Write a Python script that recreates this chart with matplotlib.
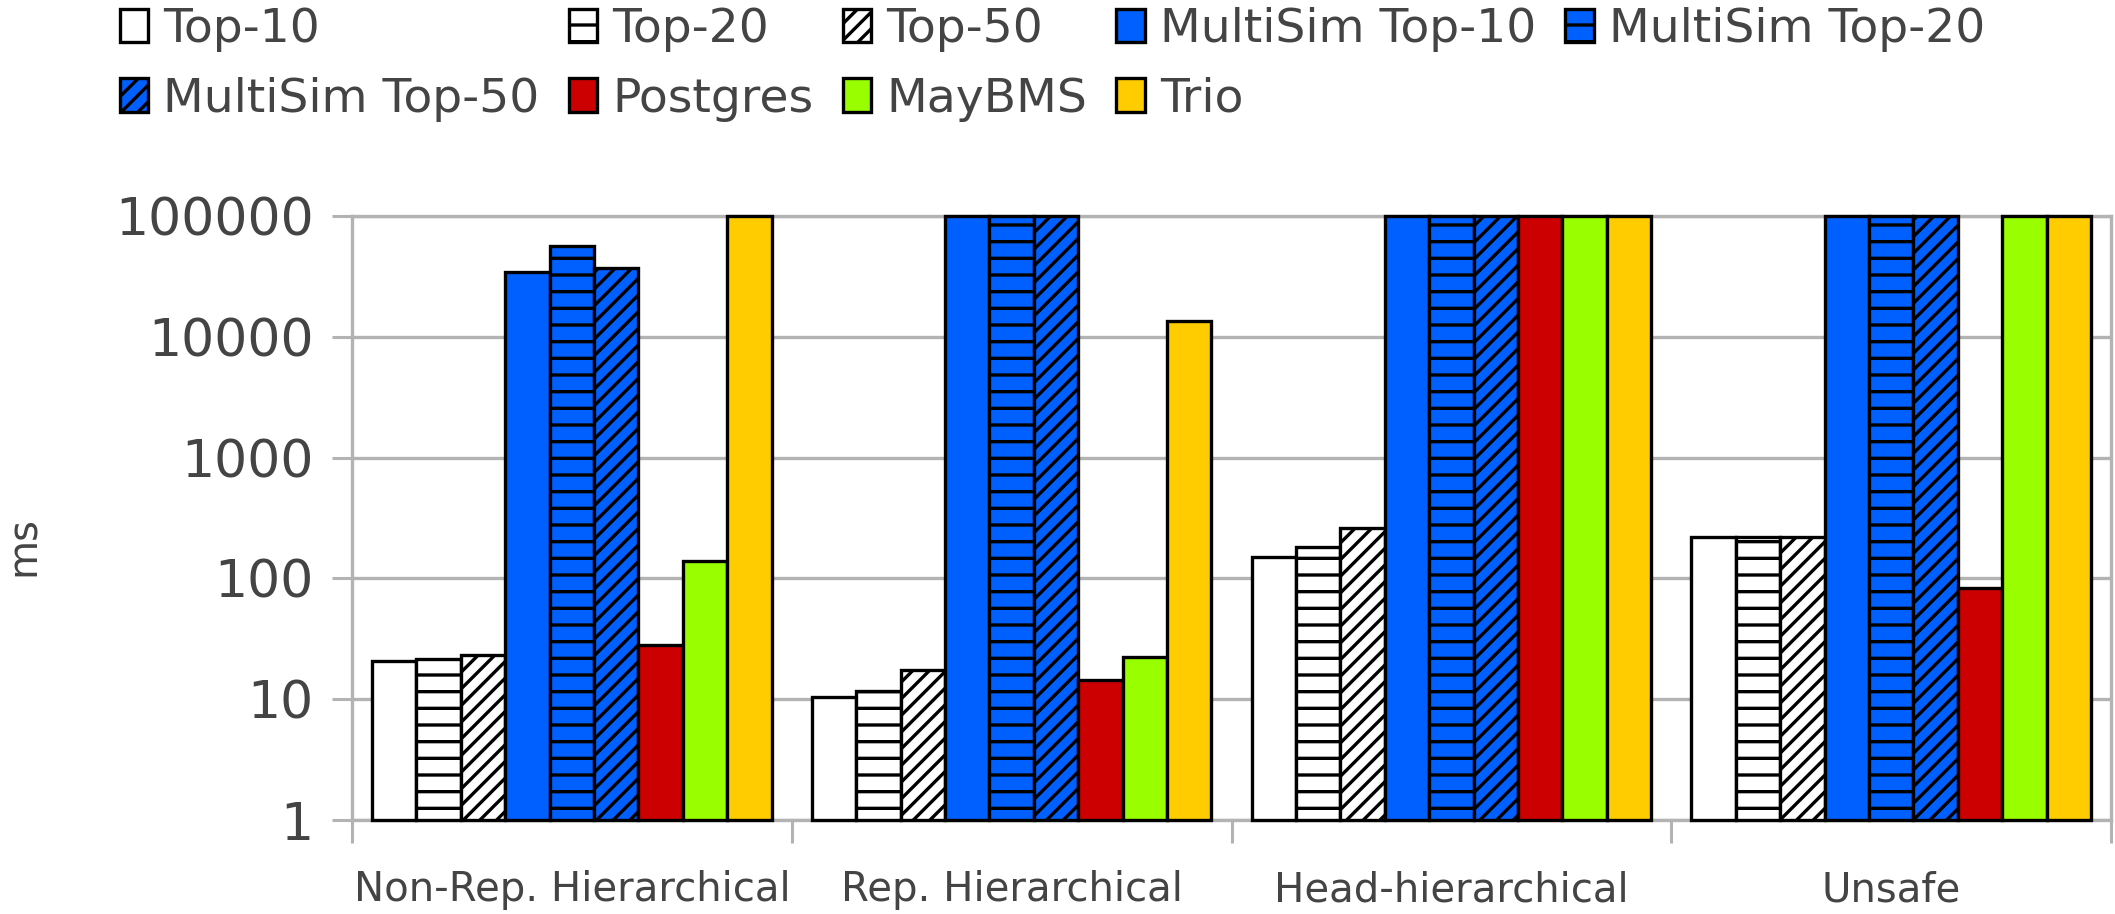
import numpy as np
import matplotlib
matplotlib.use('Agg')
import matplotlib.pyplot as plt
from matplotlib.patches import Patch
from matplotlib.ticker import FixedLocator, FuncFormatter, NullLocator

### Query runtimes (ms), one value per query class

categories = ['Non-Rep. Hierarchical', 'Rep. Hierarchical', 'Head-hierarchical', 'Unsafe']
series_names = ['Top-10', 'Top-20', 'Top-50', 'MultiSim Top-10', 'MultiSim Top-20',
                'MultiSim Top-50', 'Postgres', 'MayBMS', 'Trio']

top10 = [20.6, 10.4, 151, 221]
top20 = [21.4, 11.8, 181, 221]
top50 = [23.4, 17.3, 262, 221]
multisim10 = [34400, 100000, 100000, 100000]
multisim20 = [56500, 100000, 100000, 100000]
multisim50 = [37300, 100000, 100000, 100000]
postgres = [28.3, 14.5, 100000, 83.8]
maybms = [139, 22.4, 100000, 100000]
trio = [100000, 13600, 100000, 100000]

yticks = [1, 10, 100, 1000, 10000, 100000]

all_series = [top10, top20, top50, multisim10, multisim20, multisim50, postgres, maybms, trio]

BLUE = '#0060ff'
colors = ['white', 'white', 'white', BLUE, BLUE, BLUE, '#cc0000', '#99ff00', '#ffcc00']
hatches = [None, '-', '//', None, '-', '//', None, None, None]

GRID = '#b3b3b3'
TEXT = '#444444'
BASE = 1.0
BAR_W = 0.101
EDGE_LW = 2.4

plt.rcParams['font.family'] = 'DejaVu Sans'
plt.rcParams['hatch.linewidth'] = 2.4
plt.rcParams['hatch.color'] = 'black'

fig = plt.figure(figsize=(21.15, 9.14), dpi=100)
ax = fig.add_axes([352/2115, 1 - 820/914, (2111 - 352)/2115, (820 - 216)/914])

x = np.arange(len(categories))
for i, vals in enumerate(all_series):
    vals = np.array(vals, dtype=float)
    ax.bar(x + (i - 4) * BAR_W, vals - BASE, bottom=BASE, width=BAR_W,
           color=colors[i], edgecolor='black', linewidth=EDGE_LW, hatch=hatches[i],
           zorder=3, clip_on=False)

ax.set_yscale('log')
ax.set_ylim(1, 100000)
ax.set_xlim(-0.5, len(categories) - 0.5)

ax.yaxis.set_major_locator(FixedLocator(yticks))
ax.yaxis.set_minor_locator(NullLocator())
ax.yaxis.set_major_formatter(FuncFormatter(lambda v, p: '%d' % v))
ax.tick_params(axis='y', which='major', length=14.5, width=2.2, color=GRID,
               labelsize=37.5, labelcolor=TEXT, pad=13)
ax.yaxis.grid(True, color=GRID, linewidth=2.4, zorder=0)
ax.set_axisbelow(True)

ax.set_xticks(x)
ax.set_xticklabels(categories)
ax.set_xticks(np.arange(len(categories) + 1) - 0.5, minor=True)
ax.tick_params(axis='x', which='major', length=0, labelsize=29, labelcolor=TEXT, pad=36)
ax.tick_params(axis='x', which='minor', length=16.5, width=2.2, color=GRID)

for side in ['left', 'right', 'top', 'bottom']:
    ax.spines[side].set_color(GRID)
    ax.spines[side].set_linewidth(2.4)

fig.text(24/2115, 1 - 546/914, 'ms', rotation=90, ha='center', va='center',
         fontsize=29, color=TEXT)

# legend fills column by column, so interleave to read row by row
ncol = 5
order = [r * ncol + c for c in range(ncol) for r in range(2) if r * ncol + c < len(series_names)]
handles = [Patch(facecolor=colors[i], edgecolor='black', linewidth=EDGE_LW, hatch=hatches[i])
           for i in order]
labels = [series_names[i] for i in order]
leg = fig.legend(handles, labels, ncol=ncol, loc='upper left',
                 bbox_to_anchor=(120/2115, 1 - 7/914), bbox_transform=fig.transFigure,
                 frameon=False, fontsize=34, handlelength=0.6, handleheight=0.72,
                 handletextpad=0.32, columnspacing=0.62, labelspacing=0.52,
                 borderpad=0, borderaxespad=0)
for t in leg.get_texts():
    t.set_color(TEXT)

fig.savefig('out.png', dpi=100)
